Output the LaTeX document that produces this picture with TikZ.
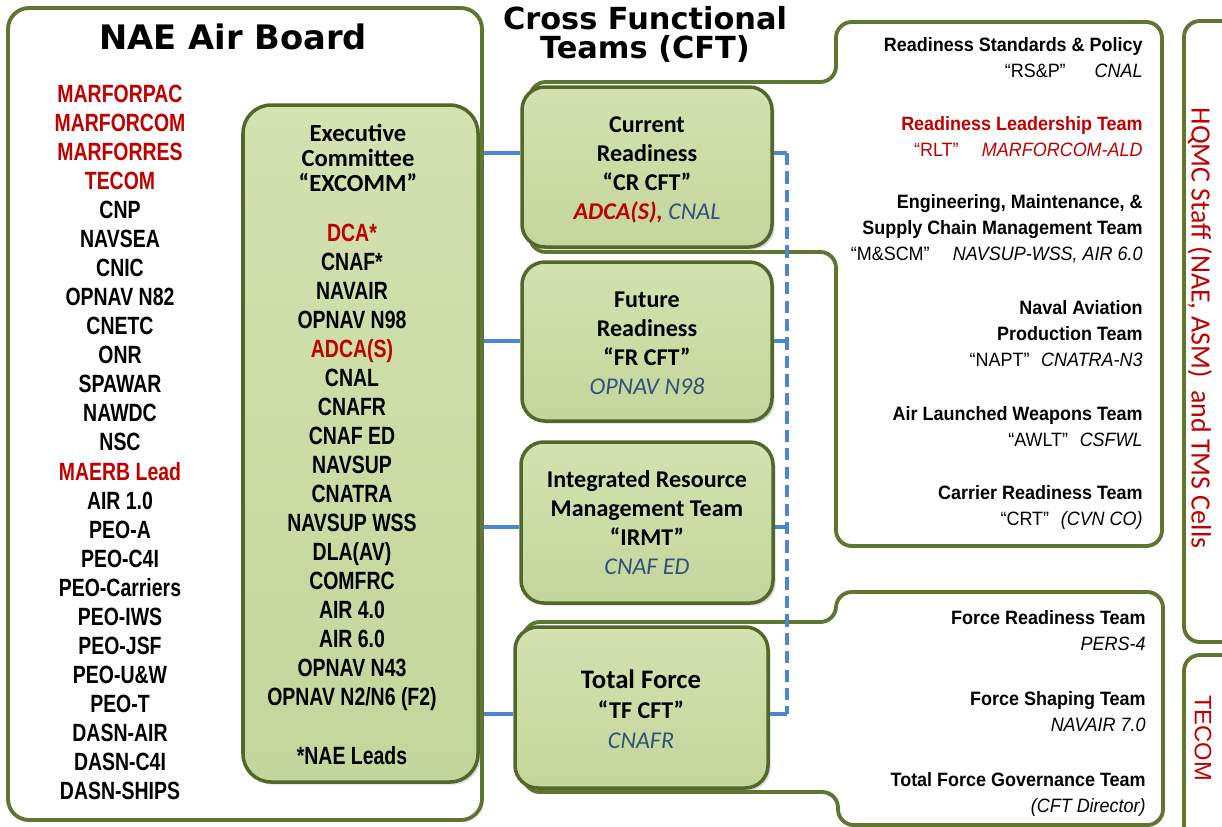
\documentclass[tikz,border=0pt]{standalone}
\usepackage{fontspec}
\setmainfont{Liberation Sans}
\newfontfamily\narrowfont{Liberation Sans}[FakeStretch=0.78]
\newfontfamily\teamfont{Liberation Sans}[FakeStretch=0.93]
\newfontfamily\calfont{Carlito}
\newfontfamily\headfont{DejaVu Sans}
\usetikzlibrary{fit,shadows}
\definecolor{panelgreen}{HTML}{5E7630}
\definecolor{boxedge}{HTML}{52682A}
\definecolor{boxtop}{HTML}{D3E2B0}
\definecolor{boxfill}{HTML}{C3D69B}
\definecolor{linkblue}{HTML}{4A86D4}
\definecolor{navred}{HTML}{C00000}
\definecolor{slate}{HTML}{34507A}
\newcommand{\cftlead}[1]{{\mdseries\itshape\color{slate}#1}}

\begin{document}
\begin{tikzpicture}[x=0.02cm,y=-0.02cm,
  panel/.style={draw=panelgreen,line width=2.2pt,rounded corners=9pt},
  greenbox/.style={draw=boxedge,line width=2pt,top color=boxtop,bottom color=boxfill,rounded corners=13pt,inner sep=0pt,
    drop shadow={opacity=0.3,shadow xshift=1.5pt,shadow yshift=-1.5pt}},
  member/.style={anchor=base,inner sep=0pt,font=\narrowfont\bfseries\fontsize{14.2}{16}\selectfont},
  cfttext/.style={align=center,font=\calfont\bfseries\fontsize{13.7}{16.5}\selectfont},
  team/.style={anchor=north east,align=right,inner sep=0pt,font=\teamfont\bfseries\fontsize{11}{14.8}\selectfont},
  link/.style={draw=linkblue,line width=2.3pt}]
\path[use as bounding box,clip] (0,0) rectangle (1222,826);

\node[panel,inner sep=0pt,rounded corners=12pt,fit={(8,8) (482,820)}] (board) {};
\node[font=\headfont\bfseries\fontsize{19.2}{20}\selectfont] (boardtitle) at (233,37) {NAE Air Board};
\node[align=center,font=\headfont\bfseries\fontsize{17.3}{16.5}\selectfont] (cfttitle) at (645,34) {Cross Functional\\Teams (CFT)};

\draw[panel] (530,170) -- (530,82) -- (836,82) -- (836,22) -- (1162,22) -- (1162,546) -- (836,546) -- (836,252) -- (530,252) -- cycle;
\draw[panel] (524,700) -- (524,622) -- (836,622) -- (836,592) -- (1163,592) -- (1163,825) -- (838,825) -- (838,792) -- (524,792) -- cycle;
\draw[panel] (1240,21) -- (1184,21) -- (1184,642) -- (1240,642);
\draw[panel] (1240,655) -- (1184,655) -- (1184,860);

\foreach \c/\t [count=\i from 0] in {navred/MARFORPAC,navred/MARFORCOM,navred/MARFORRES,navred/TECOM,black/CNP,black/NAVSEA,black/CNIC,black/OPNAV N82,black/CNETC,black/ONR,black/SPAWAR,black/NAWDC,black/NSC,navred/MAERB Lead,black/AIR 1.0,black/PEO-A,black/PEO-C4I,black/PEO-Carriers,black/PEO-IWS,black/PEO-JSF,black/PEO-U\&W,black/PEO-T,black/DASN-AIR,black/DASN-C4I,black/DASN-SHIPS}
\node[member,text=\c] (nae\i) at (120,102+29.08*\i) {\t};

\node[greenbox,rounded corners=16pt,fit={(243,105) (478,782)}] (excomm) {};
\node[anchor=north,align=center,inner sep=0pt,font=\calfont\bfseries\fontsize{14}{14.2}\selectfont] (exectitle) at (358,124) {Executive\\Committee\\“EXCOMM”};
\foreach \c/\t [count=\i from 0] in {navred/DCA*,black/CNAF*,black/NAVAIR,black/OPNAV N98,navred/ADCA(S),black/CNAL,black/CNAFR,black/CNAF ED,black/NAVSUP,black/CNATRA,black/NAVSUP WSS,black/DLA(AV),black/COMFRC,black/AIR 4.0,black/AIR 6.0,black/OPNAV N43,black/{OPNAV N2/N6 (F2)}}
\node[member,text=\c] (exec\i) at (352,241+29*\i) {\t};
\node[member] (leads) at (352,764) {*NAE Leads};

\node[greenbox,fit={(522,87) (772,247)}] (cr) {};
\node[greenbox,fit={(522,262) (772,421)}] (fr) {};
\node[greenbox,fit={(521,442) (773,603)}] (irmt) {};
\node[greenbox,fit={(515,627) (768,788)}] (tf) {};
\node[cfttext] (crtext) at (647,170) {Current\\Readiness\\“CR CFT”\\{\color{navred}\itshape ADCA(S),} \cftlead{CNAL}};
\node[cfttext] (frtext) at (647,343) {Future\\Readiness\\“FR CFT”\\\cftlead{OPNAV N98}};
\node[cfttext] (irmttext) at (647,523) {Integrated Resource\\Management Team\\“IRMT”\\\cftlead{CNAF ED}};
\node[cfttext,font=\calfont\bfseries\fontsize{13.7}{17}\selectfont] (tftext) at (641,709) {{\fontsize{15.2}{17}\selectfont Total Force}\\“TF CFT”\\\cftlead{CNAFR}};

\node[team] (rsp) at (1143,37) {Readiness Standards \& Policy\\{\mdseries “RS\&P”\hspace{1.5em}\itshape CNAL}};
\node[team,text=navred] (rlt) at (1143,116) {Readiness Leadership Team\\{\mdseries “RLT”\hspace{1.2em}\itshape MARFORCOM-ALD}};
\node[team] (mscm) at (1143,194) {Engineering, Maintenance, \&\\Supply Chain Management Team\\{\mdseries “M\&SCM”\hspace{1.2em}\itshape NAVSUP-WSS, AIR 6.0}};
\node[team] (napt) at (1143,300) {Naval Aviation\\Production Team\\{\mdseries “NAPT”\hspace{0.6em}\itshape CNATRA-N3}};
\node[team] (awlt) at (1143,406) {Air Launched Weapons Team\\{\mdseries “AWLT”\hspace{0.6em}\itshape CSFWL}};
\node[team] (crt) at (1143,485) {Carrier Readiness Team\\{\mdseries “CRT”\hspace{0.6em}\itshape (CVN CO)}};
\node[team] (frt) at (1146,610) {Force Readiness Team\\{\mdseries\itshape PERS-4}};
\node[team] (fst) at (1146,691) {Force Shaping Team\\{\mdseries\itshape NAVAIR 7.0}};
\node[team] (tfgt) at (1146,772) {Total Force Governance Team\\{\mdseries\itshape (CFT Director)}};

\node[rotate=-90,text=navred,font=\calfont\fontsize{15.9}{18}\selectfont] (hqmc) at (1200,328) {HQMC Staff (NAE, ASM)\ \ and TMS Cells};
\node[rotate=-90,text=navred,font=\fontsize{13.5}{14}\selectfont] (tecom) at (1203,738) {TECOM};

\coordinate (bustop) at (787,153);
\coordinate (busbot) at (787,714);
\foreach \b/\y in {cr/153,fr/341,irmt/527,tf/714}{
\coordinate (lvl) at (0,\y);
\draw[link] (board.east |- lvl) -- (\b.west |- lvl);
\draw[link] (\b.east |- lvl) -- (bustop |- lvl);
}
\draw[link,dash pattern=on 7pt off 3.5pt] (bustop) -- (busbot);
\end{tikzpicture}
\end{document}
